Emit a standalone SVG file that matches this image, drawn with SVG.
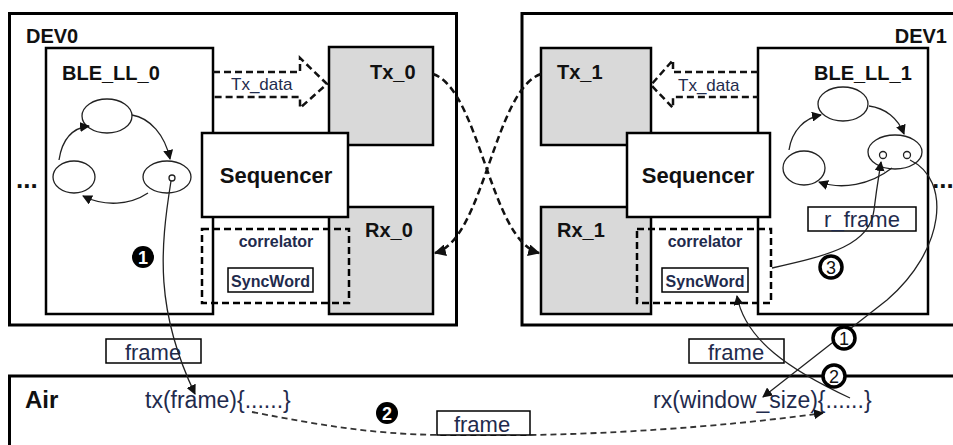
<svg xmlns="http://www.w3.org/2000/svg" width="953" height="445" viewBox="0 0 953 445">
<defs>
<style>
.frame{fill:#fff;stroke:#000;stroke-width:3}
.box{fill:#fff;stroke:#000;stroke-width:2.5}
.gray{fill:#d9d9d9;stroke:#000;stroke-width:2.5}
.dbox{fill:none;stroke:#000;stroke-width:2.5;stroke-dasharray:7 4}
.lbl{fill:#fff;stroke:#000;stroke-width:1.5}
.st{fill:#fff;stroke:#222;stroke-width:1.3}
.h{font-family:"Liberation Sans",Arial,sans-serif;font-weight:bold;fill:#111}
.t{font-family:"Liberation Sans",Arial,sans-serif;fill:#1f2b4d}
.tb{font-family:"Liberation Sans",Arial,sans-serif;font-weight:bold;fill:#1f2b4d}
.thin{fill:none;stroke:#222;stroke-width:1.3}
.dash{fill:none;stroke:#111;stroke-width:2.5;stroke-dasharray:7 4}
.dashair{fill:none;stroke:#333;stroke-width:1.8;stroke-dasharray:6 4}
.bw{fill:#fff;stroke:#000;stroke-width:3.5}
.bb{fill:#000}
.num{font-family:"Liberation Sans",Arial,sans-serif;font-size:18px;text-anchor:middle}
</style>
<marker id="ah" viewBox="0 0 10 10" refX="9" refY="5" markerWidth="10" markerHeight="10" markerUnits="userSpaceOnUse" orient="auto">
<path d="M0 0 L10 5 L0 10 Z" fill="#111"/>
</marker>
<marker id="ahb" viewBox="0 0 10 10" refX="9" refY="5" markerWidth="12" markerHeight="12" markerUnits="userSpaceOnUse" orient="auto">
<path d="M0 0 L10 5 L0 10 Z" fill="#111"/>
</marker>
</defs>

<g id="dev0">
<rect class="frame" x="9.5" y="13.5" width="447" height="311.5"/>
<text class="h" x="26" y="43" font-size="20">DEV0</text>
<text class="h" x="16" y="188" font-size="26">...</text>
</g>

<g id="dev1">
<rect class="frame" x="522" y="13.5" width="440" height="311.5"/>
<text class="h" x="947" y="43" font-size="20" text-anchor="end">DEV1</text>
<text class="h" x="932" y="188" font-size="26">...</text>
</g>

<g id="air">
<rect class="frame" x="9.5" y="376" width="955" height="80"/>
<text class="h" x="25" y="408" font-size="24">Air</text>
<text class="t" x="145" y="408" font-size="23">tx(frame){......}</text>
<text class="t" x="653" y="408" font-size="23">rx(window_size){......}</text>
</g>

<g id="ble_ll_0">
<rect class="box" x="46" y="48" width="167" height="266"/>
<text class="h" x="62" y="80" font-size="20">BLE_LL_0</text>
<ellipse class="st" cx="107" cy="116" rx="25" ry="17"/>
<ellipse class="st" cx="74" cy="177" rx="21" ry="16"/>
<ellipse class="st" cx="167" cy="177" rx="24" ry="16"/>
<circle class="st" cx="172" cy="178" r="3"/>
</g>

<g id="tx_0">
<rect class="gray" x="329" y="47" width="104" height="98"/>
<text class="h" x="370" y="79" font-size="20">Tx_0</text>
</g>
<g id="rx_0">
<rect class="gray" x="329" y="207" width="104" height="107"/>
<text class="h" x="365" y="237" font-size="20">Rx_0</text>
</g>
<g id="sequencer_0">
<rect class="box" x="202" y="133" width="146" height="84"/>
<text class="h" x="276" y="183" font-size="22" text-anchor="middle">Sequencer</text>
</g>
<g id="correlator_0">
<rect class="dbox" x="202" y="229" width="147" height="74"/>
<text class="tb" x="276" y="247" font-size="16" text-anchor="middle">correlator</text>
<rect class="lbl" x="228" y="268" width="85" height="24"/>
<text class="tb" x="270.5" y="287" font-size="16" text-anchor="middle">SyncWord</text>
</g>

<g id="ble_ll_1">
<rect class="box" x="758" y="48" width="170" height="266"/>
<text class="h" x="814" y="80" font-size="20">BLE_LL_1</text>
<ellipse class="st" cx="843" cy="104" rx="25" ry="17"/>
<ellipse class="st" cx="804" cy="168" rx="21" ry="17"/>
<ellipse class="st" cx="895" cy="152" rx="27" ry="17"/>
<circle class="st" cx="883" cy="155" r="3.5"/>
<circle class="st" cx="907" cy="155" r="3.5"/>
<rect class="lbl" x="808" y="207" width="108" height="24"/>
<text class="t" x="862" y="227" font-size="22" text-anchor="middle">r_frame</text>
</g>

<g id="tx_1">
<rect class="gray" x="541" y="48" width="110" height="97"/>
<text class="h" x="557" y="79" font-size="20">Tx_1</text>
</g>
<g id="rx_1">
<rect class="gray" x="541" y="207" width="110" height="107"/>
<text class="h" x="557" y="237" font-size="20">Rx_1</text>
</g>
<g id="sequencer_1">
<rect class="box" x="627" y="133" width="143" height="84"/>
<text class="h" x="698" y="183" font-size="22" text-anchor="middle">Sequencer</text>
</g>
<g id="correlator_1">
<rect class="dbox" x="637" y="229" width="134" height="74"/>
<text class="tb" x="705" y="247" font-size="16" text-anchor="middle">correlator</text>
<rect class="lbl" x="662" y="268" width="86" height="24"/>
<text class="tb" x="705" y="287" font-size="16" text-anchor="middle">SyncWord</text>
</g>

<g id="frame_labels">
<rect class="lbl" x="106" y="339" width="95" height="24"/>
<text class="t" x="153" y="360" font-size="22" text-anchor="middle">frame</text>
<rect class="lbl" x="689" y="339" width="95" height="24"/>
<text class="t" x="736" y="360" font-size="22" text-anchor="middle">frame</text>
</g>

<g id="connectors">
<path class="dash" d="M213 72 L300 72 L300 58 L327 84 L300 108 L300 97 L213 97"/>
<text class="t" x="231" y="90" font-size="17">Tx_data</text>
<path class="dash" d="M758 72 L673 72 L673 60 L651 85 L673 108 L673 97 L758 97"/>
<text class="t" x="678" y="91" font-size="17">Tx_data</text>

<path class="dash" d="M433 74 C480 90 490 240 539 253" marker-end="url(#ahb)"/>
<path class="dash" d="M541 74 C494 90 484 240 435 253" marker-end="url(#ahb)"/>

<path class="thin" d="M132 115 C150 118 165 135 170 159" marker-end="url(#ah)"/>
<path class="thin" d="M59 160 C62 140 72 128 89 126" marker-end="url(#ah)"/>
<path class="thin" d="M148 193 C130 205 105 207 83 196" marker-end="url(#ah)"/>

<path class="thin" d="M869 106 C885 108 898 118 904 134" marker-end="url(#ah)"/>
<path class="thin" d="M789 150 C792 130 805 118 821 115" marker-end="url(#ah)"/>
<path class="thin" d="M892 168 C870 185 842 190 819 182" marker-end="url(#ah)"/>

<path class="thin" d="M171 181 C160 250 155 310 195 394" marker-end="url(#ah)"/>

<path class="thin" d="M772 268 C830 255 870 245 874 210 C877 185 879 175 881 162" marker-end="url(#ah)"/>

<path class="thin" d="M910 160 C952 180 945 250 887 300 L763 397" marker-end="url(#ah)"/>

<path class="thin" d="M850 398 C790 370 745 340 737 296" marker-end="url(#ah)"/>

<path class="dashair" d="M252 412 C320 425 370 434 440 435 L530 435 C650 433 760 422 823 413" marker-end="url(#ah)"/>
</g>

<g id="air_frame_label">
<rect class="lbl" x="437" y="411" width="93" height="24"/>
<text class="t" x="482" y="432" font-size="22" text-anchor="middle">frame</text>
</g>

<g id="bullets">
<circle class="bb" cx="143" cy="257" r="11"/>
<text class="num" x="143" y="263.5" fill="#fff" font-weight="bold">1</text>
<circle class="bb" cx="387" cy="413" r="11"/>
<text class="num" x="387" y="419.5" fill="#fff" font-weight="bold">2</text>
<circle class="bw" cx="831" cy="267" r="11"/>
<text class="num" x="831" y="273.5" fill="#111">3</text>
<circle class="bw" cx="844" cy="338" r="11"/>
<text class="num" x="844" y="344.5" fill="#111">1</text>
<circle class="bw" cx="834" cy="376" r="11"/>
<text class="num" x="834" y="382.5" fill="#111">2</text>
</g>
</svg>
